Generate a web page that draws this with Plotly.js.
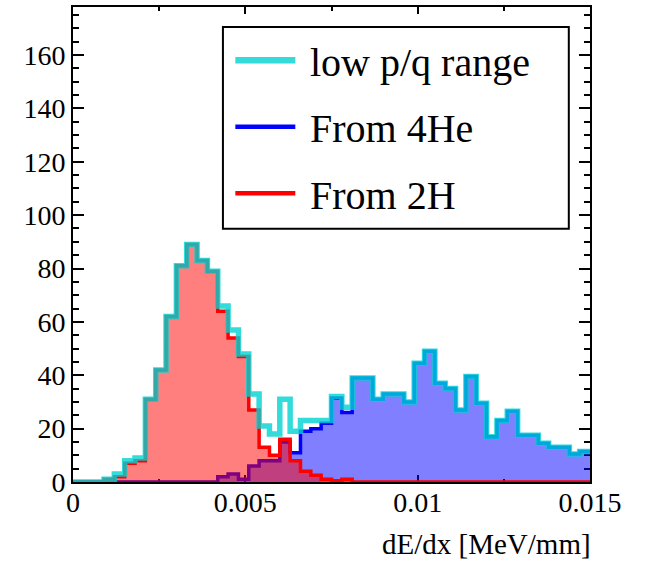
<!DOCTYPE html>
<html>
<head>
<meta charset="utf-8">
<script src="https://cdn.plot.ly/plotly-3.0.1.min.js"></script>
<style>html,body{margin:0;padding:0;background:#fff;}#chart{width:651px;height:563px;}</style>
</head>
<body>
<div id="chart"></div>
<script>
// Histogram binning (dE/dx in MeV/mm)
const binLow = 0;
const binWidth = 0.0003;
const nBins = 50;

// Series names
const seriesNames = ["low p/q range", "From 4He", "From 2H"];

// Bin contents
const lowPQ = [0, 0, 0, 1, 3, 8, 9, 31, 42, 62,
               81, 89, 83, 79, 66, 57, 48, 33, 21, 18,
               31, 19, 23, 23, 23, 32, 28, 39, 39, 31,
               33, 33, 30, 44.5, 49, 37, 35, 27, 39.5, 29.5,
               17, 23, 26.5, 17.5, 17.5, 14.5, 13, 13, 10.5, 11.4];
const from4He = [0, 0, 0, 0, 0, 0, 0, 0, 0, 0,
                 0, 0, 0, 0, 2, 3, 1, 6, 8, 8,
                 15, 11, 19, 20, 22, 31.5, 26, 39, 39, 31,
                 33, 33, 30, 44.5, 49, 37, 35, 27, 39.5, 29.5,
                 17, 23, 26.5, 17.5, 17.5, 14.5, 13, 13, 10.5, 11.4];
const from2H = [0, 0, 0, 1, 2, 7, 8, 31, 42, 62,
                81, 89, 83, 79, 64, 54, 47, 27, 13, 10,
                16, 8, 4, 2.5, 1, 0.5, 1, 0, 0, 0,
                0, 0, 0, 0, 0, 0, 0, 0, 0, 0,
                0, 0, 0, 0, 0, 0, 0, 0, 0, 0];

// Axis settings
const xRange = [0, 0.015];
const yRange = [0, 178];
const xTitle = "dE/dx [MeV/mm]";

const edges = [];
for (let i = 0; i <= nBins; i++) edges.push(+(binLow + i * binWidth).toFixed(6));
const stepY = arr => arr.concat([arr[arr.length - 1]]);

const serif = "Liberation Serif, Times New Roman, serif";
const cyanCol = "rgba(0,210,210,0.8)";

const traces = [
  {x: edges, y: stepY(from4He), type: "scatter", mode: "lines", name: seriesNames[1],
   line: {shape: "hv", color: "#0000ff", width: 3.5}, fill: "tozeroy",
   fillcolor: "rgba(0,0,255,0.5)", showlegend: false, hoverinfo: "skip"},
  {x: edges, y: stepY(from2H), type: "scatter", mode: "lines", name: seriesNames[2],
   line: {shape: "hv", color: "#ff0000", width: 3.5}, fill: "tozeroy",
   fillcolor: "rgba(255,0,0,0.5)", showlegend: false, hoverinfo: "skip"},
  {x: edges, y: stepY(lowPQ), type: "scatter", mode: "lines", name: seriesNames[0],
   line: {shape: "hv", color: cyanCol, width: 5.5}, showlegend: false, hoverinfo: "skip"}
];

// Manual ROOT-style legend (paper coordinates)
const legX0 = 0.29, legX1 = 0.959, legY0 = 0.533, legY1 = 0.958;
const rowY = [0.884, 0.744, 0.604];
const legColors = [cyanCol, "#0000ff", "#ff0000"];
const legWidths = [6.5, 4.5, 4.5];
const shapes = [{type: "rect", xref: "paper", yref: "paper", x0: legX0, x1: legX1, y0: legY0, y1: legY1,
                 line: {color: "#000", width: 2}, fillcolor: "#fff"}];
const annotations = [];
for (let i = 0; i < 3; i++) {
  shapes.push({type: "line", xref: "paper", yref: "paper", x0: 0.314, x1: 0.43, y0: rowY[i] + 0.004, y1: rowY[i] + 0.004,
               line: {color: legColors[i], width: legWidths[i]}});
  annotations.push({xref: "paper", yref: "paper", x: 0.4536, y: rowY[i], xanchor: "left", yanchor: "middle",
                    text: seriesNames[i], showarrow: false, font: {family: serif, size: 40, color: "#000"}});
}
annotations.push({xref: "paper", yref: "paper", x: 1.005, y: -0.13, xanchor: "right", yanchor: "middle",
                  text: xTitle, showarrow: false, font: {family: serif, size: 29, color: "#000"}});

const layout = {
  width: 651, height: 563,
  margin: {l: 73, r: 61, t: 7, b: 81, pad: 0},
  paper_bgcolor: "#fff", plot_bgcolor: "#fff",
  font: {family: serif, size: 28, color: "#000"},
  xaxis: {range: xRange, dtick: 0.005, tick0: 0, ticks: "inside", ticklen: 7, tickwidth: 2, tickcolor: "#000",
          minor: {ticks: "inside", dtick: 0.0025, ticklen: 3.5, tickwidth: 2, tickcolor: "#000", showgrid: false},
          showline: true, linewidth: 2, linecolor: "#000", mirror: "ticks", showgrid: false, zeroline: false,
          ticklabelstandoff: -6,
          tickfont: {family: serif, size: 28, color: "#000"}, layer: "below traces"},
  yaxis: {range: yRange, dtick: 20, tick0: 0, ticks: "inside", ticklen: 11, tickwidth: 2, tickcolor: "#000",
          minor: {ticks: "inside", dtick: 5, ticklen: 6, tickwidth: 2, tickcolor: "#000", showgrid: false},
          showline: true, linewidth: 2, linecolor: "#000", mirror: "ticks", showgrid: false, zeroline: false,
          tickfont: {family: serif, size: 28, color: "#000"}, layer: "below traces"},
  shapes: shapes,
  annotations: annotations,
  showlegend: false
};

Plotly.newPlot("chart", traces, layout, {staticPlot: true, displayModeBar: false});
</script>
</body>
</html>
